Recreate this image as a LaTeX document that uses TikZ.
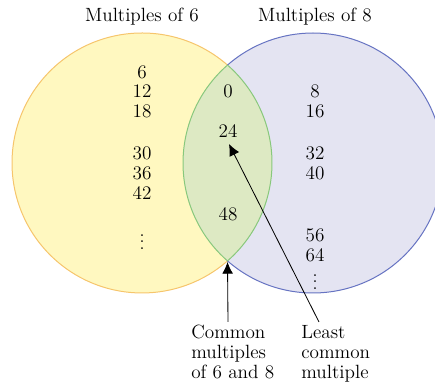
\documentclass[tikz,border=0pt]{standalone}
\usetikzlibrary{arrows.meta}
\definecolor{yfill}{HTML}{FFF8C0}
\definecolor{yline}{HTML}{F6C56C}
\definecolor{bfill}{HTML}{E4E4F2}
\definecolor{bline}{HTML}{6673C2}
\definecolor{gfill}{HTML}{DDE9C3}
\definecolor{gline}{HTML}{88C87C}
\begin{document}
\begin{tikzpicture}[x=0.6pt,y=0.6pt,
  num/.style={font=\fontsize{11.5}{12}\selectfont, inner sep=0pt, align=center},
  dots/.style={font=\fontsize{11}{12}\selectfont, inner sep=0pt},
  lbl/.style={font=\fontsize{11.5}{12}\selectfont, inner sep=0pt, align=left, anchor=north west},
  arr/.style={-{Latex[length=7pt,width=6.5pt]}, line width=0.5pt}]
\useasboundingbox (0,0) rectangle (435,-387);
\coordinate (L) at (142,-163);
\coordinate (R) at (313,-163);
\fill[yfill] (L) circle (130);
\fill[bfill] (R) circle (130);
\begin{scope}
  \clip (L) circle (130);
  \fill[gfill] (R) circle (130);
\end{scope}
\draw[yline, line width=0.6pt] ([shift={(48.86:130)}]L) arc (48.86:311.14:130);
\draw[bline, line width=0.6pt] ([shift={(228.86:130)}]R) arc (228.86:491.14:130);
\draw[gline, line width=0.6pt] ([shift={(-48.86:130)}]L) arc (-48.86:48.86:130);
\draw[gline, line width=0.6pt] ([shift={(131.14:130)}]R) arc (131.14:228.86:130);
\coordinate (bot) at (227.5,-262);

\node[num] (t6) at (142,-17) {Multiples of 6};
\node[num] (t8) at (315,-17) {Multiples of 8};

\node[num] (n6) at (142,-72) {6};
\node[num] (n12) at (142,-91) {12};
\node[num] (n18) at (142,-111) {18};
\node[num] (n30) at (142,-153) {30};
\node[num] (n36) at (142,-173) {36};
\node[num] (n42) at (142,-193) {42};
\node[dots] (nld) at (142,-237) {$\vdots$};

\node[num] (n0) at (228,-91) {0};
\node[num] (n24) at (228,-131) {24};
\node[num] (n48) at (228,-214) {48};

\node[num] (n8) at (315,-91) {8};
\node[num] (n16) at (315,-111) {16};
\node[num] (n32) at (315,-153) {32};
\node[num] (n40) at (315,-173) {40};
\node[num] (n56) at (315,-235) {56};
\node[num] (n64) at (315,-255) {64};
\node[dots] (nrd) at (315,-277) {$\vdots$};

\node[lbl] (common) at (191,-325) {Common\\multiples\\of 6 and 8};
\node[lbl] (least) at (301,-325) {Least\\common\\multiple};

\coordinate (cs) at (228,-322);
\coordinate (ls) at (319,-322);
\coordinate (le) at (229,-144);
\draw[arr] (cs) -- (bot);
\draw[arr] (ls) -- (le);
\end{tikzpicture}
\end{document}
